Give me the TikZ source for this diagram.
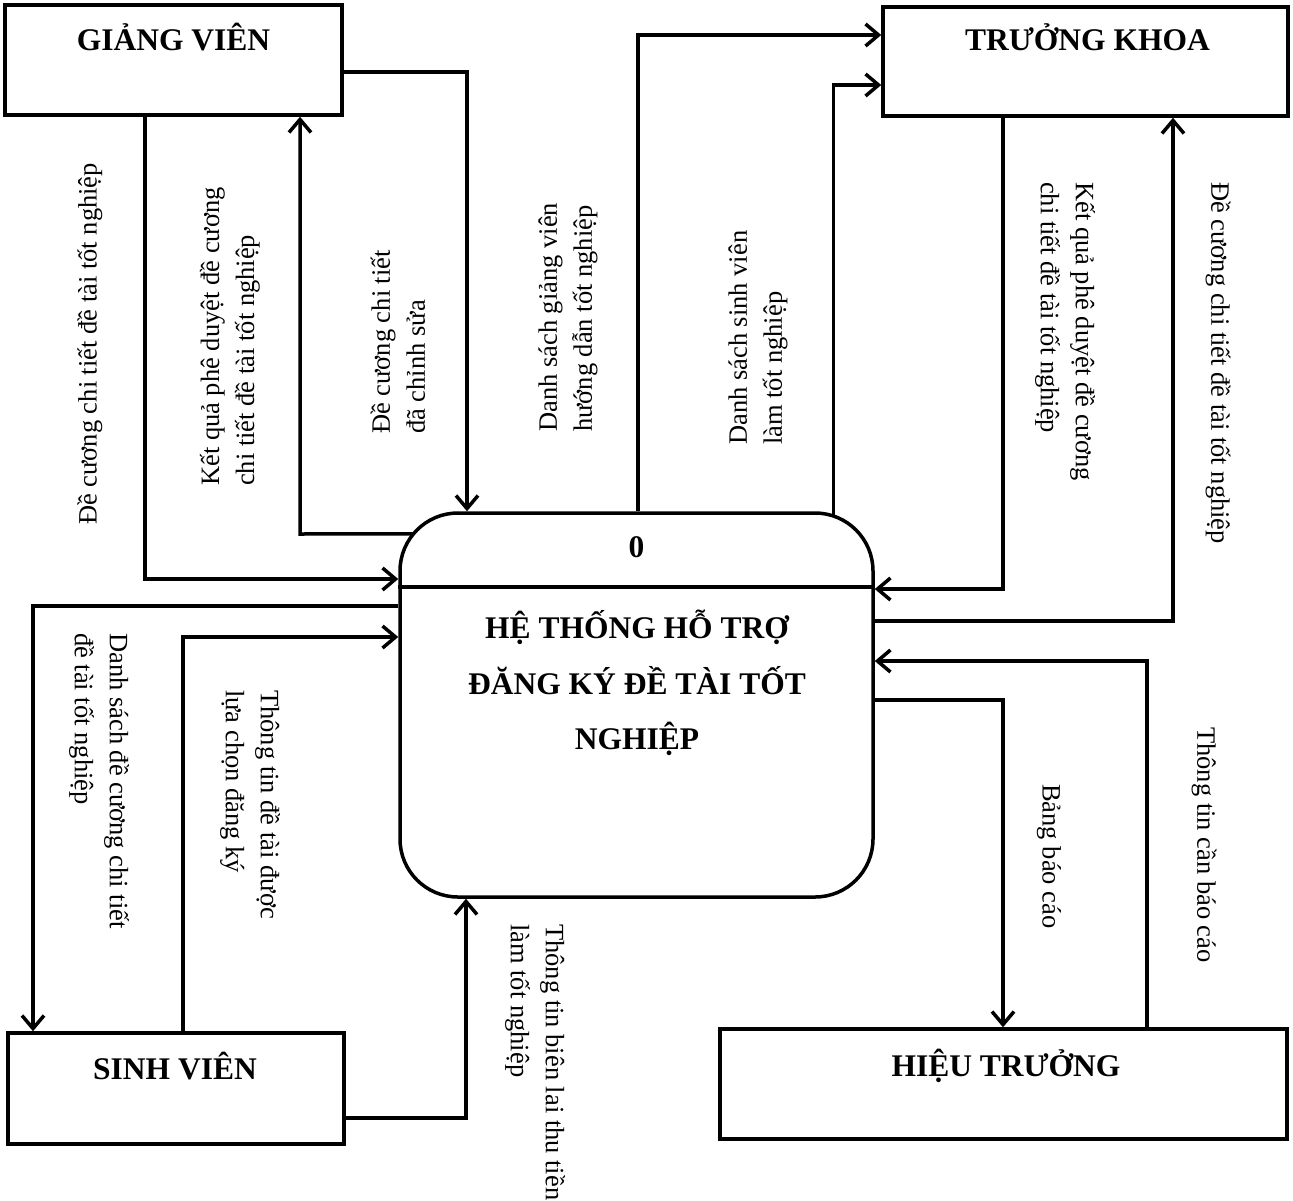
\documentclass[tikz,border=0pt]{standalone}
\usepackage{fontspec}
\setmainfont{Liberation Serif}
\usetikzlibrary{arrows.meta,calc}
\tikzset{
  entbox/.style={draw, line width=3.5pt, rectangle, inner sep=0pt},
  flow/.style={draw, line width=3.5pt, -{Straight Barb[length=13pt,width=22pt]}},
  lbl/.style={font=\fontsize{26.5}{35}\selectfont, align=left, inner sep=0pt, anchor=west},
  ttl/.style={font=\fontsize{31.5}{38}\selectfont\bfseries, inner sep=0pt, anchor=base},
}
\begin{document}
\begin{tikzpicture}[x=1pt,y=1pt]
\path[use as bounding box, fill=white] (0,0) rectangle (1293,-1200);

% entities
\node[entbox, minimum width=337pt, minimum height=110pt] (gv) at (173.5,-60) {};
\node[entbox, minimum width=405pt, minimum height=109pt] (tk) at (1085.5,-61.5) {};
\node[entbox, minimum width=336pt, minimum height=111pt] (sv) at (176,-1088.5) {};
\node[entbox, minimum width=567pt, minimum height=110pt] (ht) at (1003.5,-1084) {};

\node[ttl] (gvt) at (173.5,-50) {GIẢNG VIÊN};
\node[ttl] (tkt) at (1087.5,-50) {TRƯỞNG KHOA};
\node[ttl] (svt) at (175,-1079) {SINH VIÊN};
\node[ttl] (htt) at (1006,-1076) {HIỆU TRƯỞNG};

% process
\node[draw, line width=3.5pt, rounded corners=58pt, minimum width=473pt, minimum height=384pt, inner sep=0pt] (proc) at (636.5,-705) {};
\coordinate (dv) at (0,-587);
\draw[line width=3.5pt] (proc.west |- dv) -- (proc.east |- dv);
\node[ttl] (pz) at (636.5,-557) {0};
\node[ttl] (pt1) at (637,-638) {HỆ THỐNG HỖ TRỢ};
\node[ttl] (pt2) at (637,-694) {ĐĂNG KÝ ĐỀ TÀI TỐT};
\node[ttl] (pt3) at (637,-749) {NGHIỆP};

% connectors
\coordinate (c1) at (145,-579);
\draw[flow] (c1 |- gv.south) |- (proc.west |- c1);

\coordinate (p1) at ($(proc.north west)+(14.5,-22.5)$);
\coordinate (c2) at (300,-534);
\draw[flow] (p1) -- (c2) -- (c2 |- gv.south);

\coordinate (c3) at (467,-72);
\draw[flow] (gv.east |- c3) -| (c3 |- proc.north);

\coordinate (c4) at (638,-35);
\draw[flow] (c4 |- proc.north) |- (tk.west |- c4);

\coordinate (p2) at ($(proc.north east)+(-41.5,-4.5)$);
\coordinate (c5) at (833,-85);
\draw[flow] (p2) |- (tk.west |- c5);

\coordinate (c6) at (1003,-589);
\draw[flow] (c6 |- tk.south) |- (proc.east |- c6);

\coordinate (c7) at (1173,-621);
\draw[flow] (proc.east |- c7) -| (c7 |- tk.south);

\coordinate (c8) at (1147,-661);
\draw[flow] (c8 |- ht.north) |- (proc.east |- c8);

\coordinate (c9) at (1003,-700);
\draw[flow] (proc.east |- c9) -| (c9 |- ht.north);

\coordinate (c10) at (466,-1118);
\draw[flow] (sv.east |- c10) -| (c10 |- proc.south);

\coordinate (c11) at (33,-606);
\draw[flow] (proc.west |- c11) -| (c11 |- sv.north);

\coordinate (c12) at (183,-637);
\draw[flow] (c12 |- sv.north) |- (proc.west |- c12);

% labels
\node[lbl, rotate=90] (la) at (90,-525) {Đề cương chi tiết đề tài tốt nghiệp};
\node[lbl, rotate=90] (lb) at (230,-486) {Kết quả phê duyệt đề cương\\chi tiết đề tài tốt nghiệp};
\node[lbl, rotate=90] (lc) at (398,-434) {Đề cương chi tiết\\đã chỉnh sửa};
\node[lbl, rotate=90] (ld) at (568,-432) {Danh sách giảng viên\\hướng dẫn tốt nghiệp};
\node[lbl, rotate=90] (le) at (758,-445) {Danh sách sinh viên\\làm tốt nghiệp};
\node[lbl, rotate=-90] (lf) at (1065,-182) {Kết quả phê duyệt đề cương\\chi tiết đề tài tốt nghiệp};
\node[lbl, rotate=-90] (lg) at (1218,-182) {Đề cương chi tiết đề tài tốt nghiệp};
\node[lbl, rotate=-90] (lh) at (99,-633) {Danh sách đề cương chi tiết\\đề tài tốt nghiệp};
\node[lbl, rotate=-90] (li) at (250,-690) {Thông tin đề tài được\\lựa chọn đăng ký};
\node[lbl, rotate=-90] (lj) at (535,-924) {Thông tin biên lai thu tiền\\làm tốt nghiệp};
\node[lbl, rotate=-90] (lk) at (1049,-784) {Bảng báo cáo};
\node[lbl, rotate=-90] (ll) at (1204,-727) {Thông tin cần báo cáo};
\end{tikzpicture}
\end{document}
